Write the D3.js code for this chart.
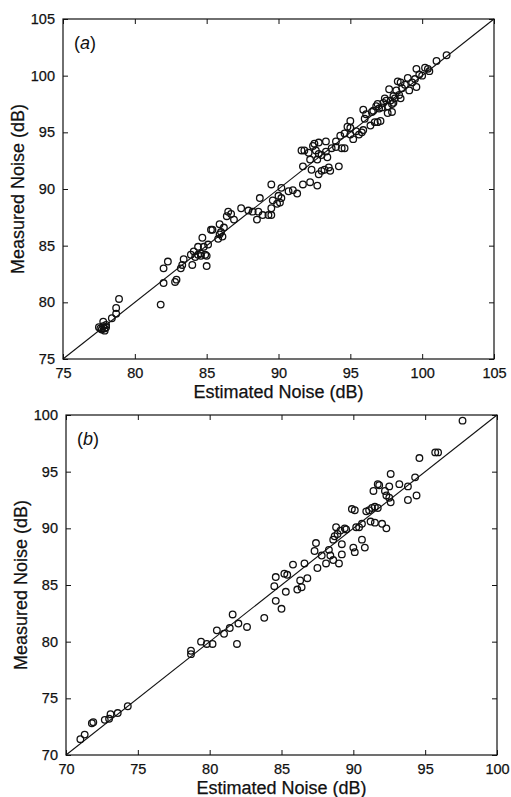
<!DOCTYPE html>
<meta charset="utf-8">
<style>
body { margin: 0; background: #fff; }
text { font-family: "Liberation Sans", Arial, sans-serif; fill: #111; }
.lab { font-size: 18px; }
</style>
<body>
<script src="https://cdnjs.cloudflare.com/ajax/libs/d3/7.8.5/d3.min.js"></script>
<script>

// panel (a): [estimated, measured]
var pointsA = [
  [77.5,77.8],[77.7,77.6],[77.8,77.9],[77.9,77.7],[78.0,77.8],[77.8,78.3],[78.0,78.0],[77.6,77.7],
  [77.9,77.5],[78.4,78.6],[78.7,79.0],[78.7,79.5],[78.9,80.3],
  [81.8,79.8],[82.0,81.7],[82.0,83.0],[82.3,83.6],[82.8,81.8],[82.9,82.0],[83.2,83.0],[83.3,83.3],
  [83.4,83.8],[83.9,84.2],[84.0,83.3],[84.1,84.5],[84.2,84.0],[84.4,84.2],[84.4,84.9],[84.6,84.1],
  [84.7,85.7],[84.8,84.9],[84.9,84.2],[85.0,84.1],[84.6,84.3],[85.0,83.2],[85.1,85.1],[85.3,86.4],
  [85.4,86.4],[85.8,85.6],[85.9,86.0],[85.9,86.9],[86.0,86.2],[86.1,85.8],[86.2,86.6],[86.4,87.6],
  [86.5,88.0],[86.7,87.8],[86.9,87.3],[87.4,88.3],[87.9,88.1],[88.2,88.0],[88.5,87.3],[88.6,88.0],
  [88.7,89.2],[88.9,87.7],[89.3,87.7],[89.5,88.3],[89.5,87.7],[89.5,90.4],[89.6,89.0],[89.9,88.7],
  [90.0,89.4],[90.1,88.8],[90.2,89.2],[90.2,90.1],[90.7,89.8],[91.0,89.9],[91.3,89.6],[91.6,93.4],
  [91.7,92.0],[91.8,93.4],[91.7,90.4],[92.1,93.2],[92.2,92.6],[92.2,90.6],[92.3,91.7],[92.4,93.8],
  [92.5,94.0],[92.6,93.4],[92.7,92.6],[92.8,93.1],[92.8,94.1],[92.7,90.3],[92.8,91.3],[93.0,91.6],
  [93.0,93.0],[93.2,91.7],[93.3,93.3],[93.3,94.2],[93.4,92.8],[93.5,91.9],[93.6,91.6],[93.7,93.6],
  [94.0,94.2],[94.0,93.7],[94.2,92.0],[94.3,94.7],[94.4,93.6],[94.6,93.6],[94.6,94.9],[94.8,95.5],
  [95.0,95.4],[95.0,96.0],[95.0,94.8],[95.2,94.4],[95.4,95.1],[95.6,94.8],[95.8,95.0],[95.9,95.2],
  [96.0,96.2],[95.9,97.0],[96.1,96.6],[96.4,95.6],[96.6,96.9],[96.7,95.9],[96.8,97.3],[96.9,95.9],
  [96.9,97.5],[97.1,96.0],[97.2,97.2],[97.3,97.6],[97.4,98.0],[97.5,97.8],[97.6,96.7],[97.7,98.8],
  [97.8,97.8],[97.9,97.5],[97.9,96.8],[98.0,98.2],[98.2,98.7],[98.3,99.5],[98.4,98.3],[98.5,98.0],
  [98.5,99.4],[98.6,98.9],[98.8,99.2],[99.0,99.8],[99.1,98.7],[99.3,99.4],[99.5,99.7],[99.6,100.6],
  [99.6,99.0],[99.8,100.1],[100.0,100.0],[100.2,100.7],[100.4,100.6],[100.5,100.4],[101.0,101.3],
  [101.7,101.8],[98.0,97.6],[97.0,97.1],[96.5,96.8],[98.1,98.0],[97.6,97.3]
];

// panel (b): [estimated, measured]
var pointsB = [
  [71.0,71.4],[71.3,71.8],[71.8,72.8],[71.9,72.9],[72.7,73.1],[73.0,73.2],[73.1,73.6],[73.6,73.7],
  [74.3,74.3],[78.7,79.2],[78.7,78.9],[79.4,80.0],[79.8,79.8],[80.2,79.8],[80.5,81.0],[81.0,80.7],
  [81.4,81.2],[81.6,82.4],[82.0,81.6],[81.9,79.8],[82.6,81.3],[83.8,82.1],[84.5,84.9],[84.6,85.7],
  [84.6,83.6],[85.0,82.9],[85.3,84.4],[85.2,86.0],[85.4,85.9],[85.8,86.8],[86.1,84.6],[86.3,85.4],
  [86.4,84.8],[86.6,86.9],[86.8,85.6],[87.3,88.0],[87.4,88.7],[87.5,86.5],[87.8,87.6],[88.1,86.9],
  [88.3,88.1],[88.4,87.6],[88.6,87.2],[88.6,89.0],[88.7,89.3],[88.8,90.1],[88.9,89.5],[89.0,86.9],
  [89.1,89.8],[89.2,88.6],[89.2,87.7],[89.4,90.0],[89.5,89.9],[89.9,91.7],[90.1,91.6],[90.0,88.3],
  [90.1,87.9],[90.2,90.1],[90.4,90.1],[90.6,90.4],[90.6,89.0],[90.8,88.3],[90.9,91.5],[91.1,91.6],
  [91.2,90.6],[91.3,91.8],[91.4,93.3],[91.5,90.5],[91.5,91.9],[91.7,91.8],[91.7,93.9],[91.8,93.8],
  [92.0,90.4],[92.2,93.3],[92.3,90.0],[92.3,92.9],[92.5,93.7],[92.5,92.7],[92.6,94.8],[92.6,92.3],
  [93.2,93.9],[93.8,93.7],[93.8,92.5],[94.3,94.5],[94.4,92.9],[94.6,96.2],[95.7,96.7],[95.9,96.7],
  [97.6,99.5]
];

var domainA = [75, 105], ticksA = [75, 80, 85, 90, 95, 100, 105];
var domainB = [70, 100], ticksB = [70, 75, 80, 85, 90, 95, 100];

var svg = d3.select("body").append("svg")
    .attr("width", 511)
    .attr("height", 797);

function panel(top, left, domain, ticks, data, tag) {
  var w = 431, h = 340;
  var x = d3.scaleLinear().domain(domain).range([0, w]);
  var y = d3.scaleLinear().domain(domain).range([h, 0]);

  var g = svg.append("g").attr("transform", "translate(" + left + "," + top + ")");

  // inward ticks on all four sides
  g.append("g").attr("transform", "translate(0," + h + ")")
      .call(d3.axisBottom(x).tickValues(ticks).tickSizeInner(-5).tickSizeOuter(0).tickPadding(9));
  g.append("g")
      .call(d3.axisTop(x).tickValues(ticks).tickSizeInner(-5).tickSizeOuter(0).tickFormat(""));
  g.append("g")
      .call(d3.axisLeft(y).tickValues(ticks).tickSizeInner(-5).tickSizeOuter(0).tickPadding(8));
  g.append("g").attr("transform", "translate(" + w + ",0)")
      .call(d3.axisRight(y).tickValues(ticks).tickSizeInner(-5).tickSizeOuter(0).tickFormat(""));
  g.selectAll(".domain").remove();
  g.selectAll(".tick line").attr("stroke", "#111");
  g.selectAll(".tick text").attr("font-size", 14.5).attr("fill", "#111")
      .attr("stroke", "#111").attr("stroke-width", 0.25);

  g.append("rect")
      .attr("width", w).attr("height", h)
      .attr("fill", "none").attr("stroke", "#111").attr("stroke-width", 1.2);

  // 1:1 line
  g.append("line")
      .attr("x1", x(domain[0])).attr("y1", y(domain[0]))
      .attr("x2", x(domain[1])).attr("y2", y(domain[1]))
      .attr("stroke", "#111").attr("stroke-width", 1.1);

  g.selectAll("circle").data(data).enter().append("circle")
      .attr("cx", function(d) { return x(d[0]); })
      .attr("cy", function(d) { return y(d[1]); })
      .attr("r", 3.3)
      .attr("fill", "none")
      .attr("stroke", "#111")
      .attr("stroke-width", 1.3);

  var t = g.append("text").attr("x", 11).attr("y", 30).attr("class", "lab");
  t.append("tspan").text("(");
  t.append("tspan").attr("font-style", "italic").text(tag);
  t.append("tspan").text(")");

  g.append("text").attr("class", "lab")
      .attr("x", w / 2).attr("y", h + 39)
      .attr("text-anchor", "middle")
      .attr("stroke", "#111").attr("stroke-width", 0.25)
      .text("Estimated Noise (dB)");
  g.append("text").attr("class", "lab")
      .attr("transform", "translate(-39," + (h / 2) + ") rotate(-90)")
      .attr("text-anchor", "middle")
      .attr("stroke", "#111").attr("stroke-width", 0.25)
      .text("Measured Noise (dB)");
}

panel(19, 63, domainA, ticksA, pointsA, "a");
panel(415, 66, domainB, ticksB, pointsB, "b");

</script>
